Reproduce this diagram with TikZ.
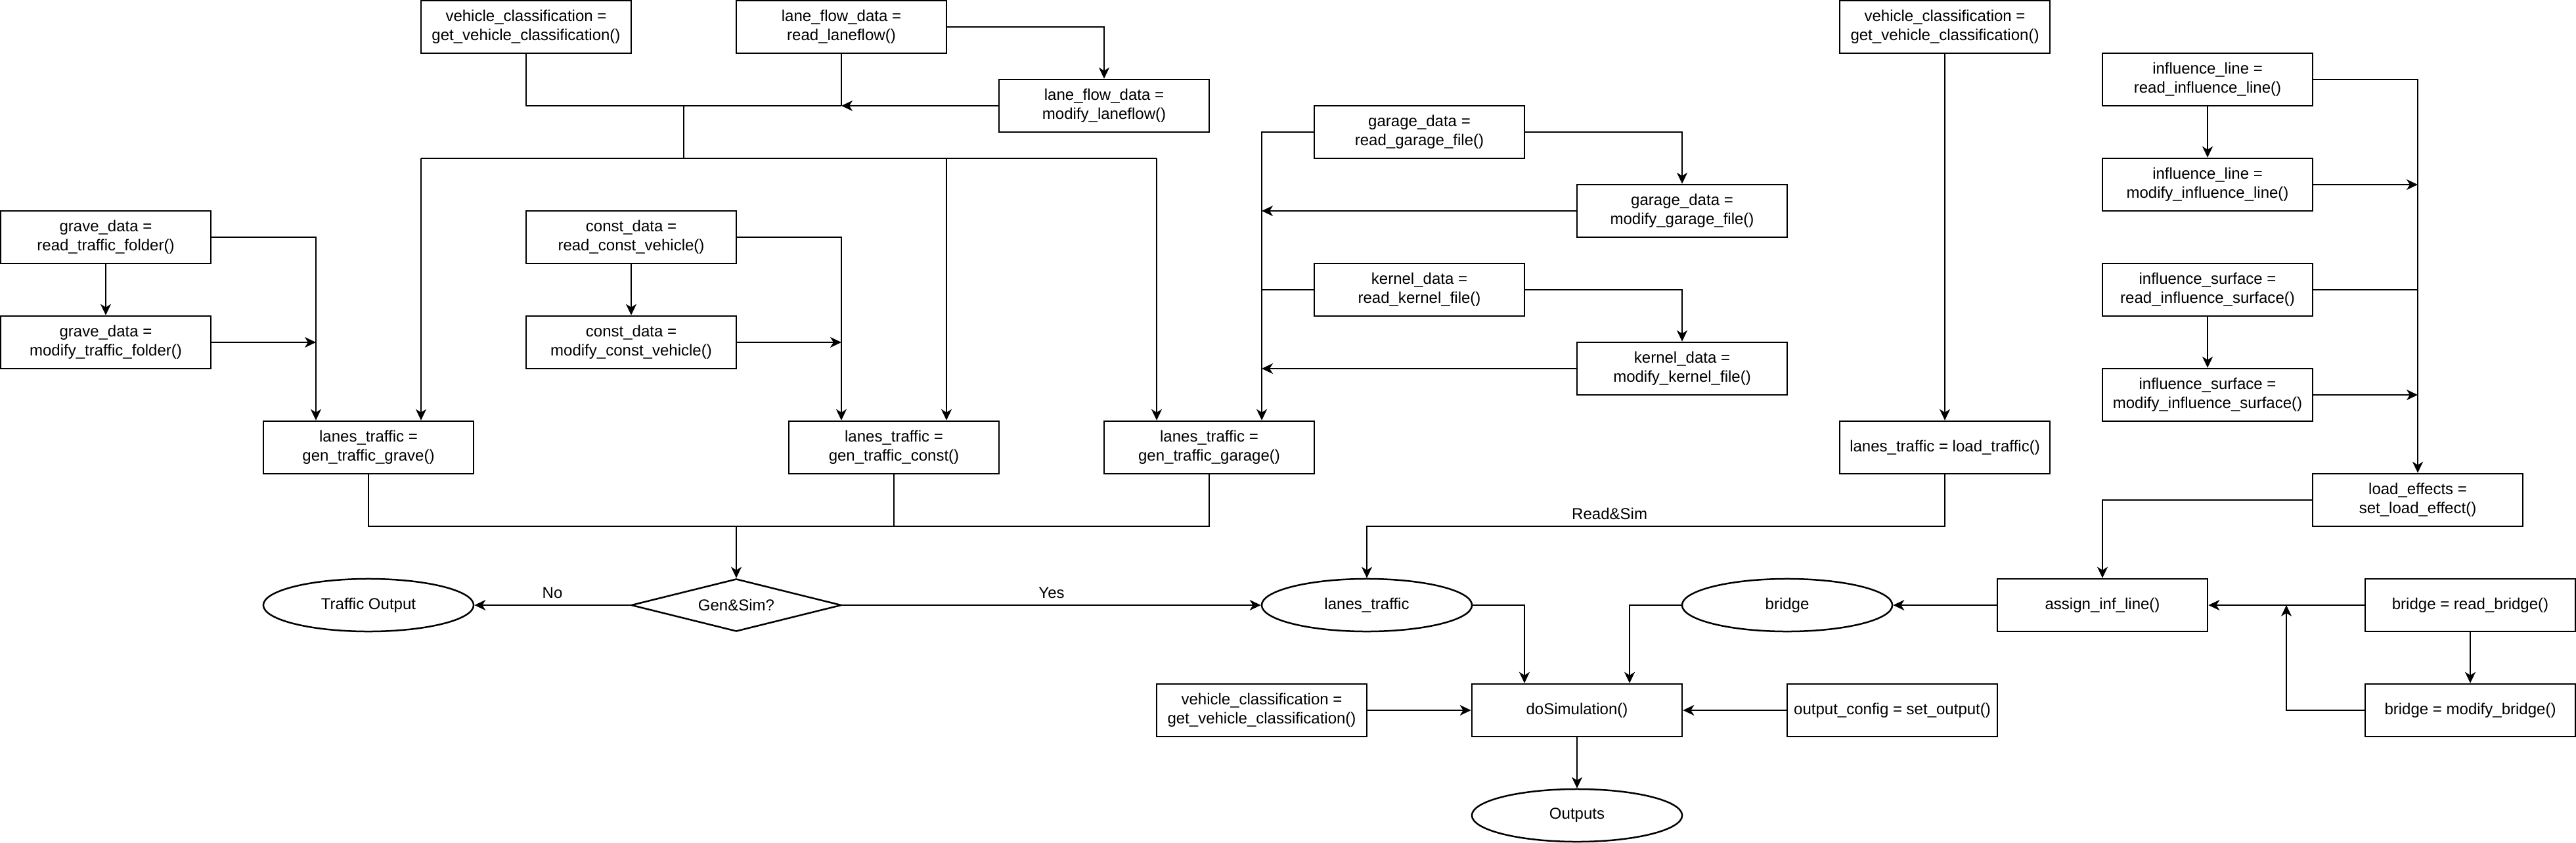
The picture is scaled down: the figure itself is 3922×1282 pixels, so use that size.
\documentclass[tikz,border=0pt]{standalone}
\usepackage{fontspec}
\setmainfont{Liberation Sans}
\usetikzlibrary{shapes.geometric,arrows.meta}
\begin{document}
\begin{tikzpicture}[x=0.01cm,y=-0.01cm,
  txt/.style={font=\fontsize{6.83pt}{8.1pt}\selectfont, align=center},
  box/.style={txt, draw, line width=0.025cm, minimum width=3.2cm, minimum height=0.8cm, inner sep=0pt},
  oval/.style={box, ellipse},
  dia/.style={box, diamond, aspect=4},
  ln/.style={line width=0.02cm},
  arr/.style={ln, -{Stealth[length=0.17cm,width=0.16cm,inset=0.05cm]}},
  lbl/.style={txt, inner sep=0pt}
]
\useasboundingbox (-1,-1) rectangle (3921,1281);
% nodes
\node[box] (vc1) at (800,40) {vehicle\_classification =\\get\_vehicle\_classification()};
\node[box] (lfr) at (1280,40) {lane\_flow\_data =\\read\_laneflow()};
\node[box] (lfm) at (1680,160) {lane\_flow\_data =\\modify\_laneflow()};
\node[box] (gdr) at (160,360) {grave\_data =\\read\_traffic\_folder()};
\node[box] (gdm) at (160,520) {grave\_data =\\modify\_traffic\_folder()};
\node[box] (cdr) at (960,360) {const\_data =\\read\_const\_vehicle()};
\node[box] (cdm) at (960,520) {const\_data =\\modify\_const\_vehicle()};
\node[box] (gar) at (2160,200) {garage\_data =\\read\_garage\_file()};
\node[box] (gam) at (2560,320) {garage\_data =\\modify\_garage\_file()};
\node[box] (ker) at (2160,440) {kernel\_data =\\read\_kernel\_file()};
\node[box] (kem) at (2560,560) {kernel\_data =\\modify\_kernel\_file()};
\node[box] (vc2) at (2960,40) {vehicle\_classification =\\get\_vehicle\_classification()};
\node[box] (ilr) at (3360,120) {influence\_line =\\read\_influence\_line()};
\node[box] (ilm) at (3360,280) {influence\_line =\\modify\_influence\_line()};
\node[box] (isr) at (3360,440) {influence\_surface =\\read\_influence\_surface()};
\node[box] (ism) at (3360,600) {influence\_surface =\\modify\_influence\_surface()};
\node[box] (ltg) at (560,680) {lanes\_traffic =\\gen\_traffic\_grave()};
\node[box] (ltc) at (1360,680) {lanes\_traffic =\\gen\_traffic\_const()};
\node[box] (ltga) at (1840,680) {lanes\_traffic =\\gen\_traffic\_garage()};
\node[box] (ltl) at (2960,680) {lanes\_traffic = load\_traffic()};
\node[box] (lef) at (3680,760) {load\_effects =\\set\_load\_effect()};
\node[box] (asg) at (3200,920) {assign\_inf\_line()};
\node[box] (brr) at (3760,920) {bridge = read\_bridge()};
\node[box] (brm) at (3760,1080) {bridge = modify\_bridge()};
\node[box] (sim) at (2400,1080) {doSimulation()};
\node[box] (vc3) at (1920,1080) {vehicle\_classification =\\get\_vehicle\_classification()};
\node[box] (ocf) at (2880,1080) {output\_config = set\_output()};
\node[oval] (tout) at (560,920) {Traffic Output};
\node[oval] (lte) at (2080,920) {lanes\_traffic};
\node[oval] (bre) at (2720,920) {bridge};
\node[oval] (outs) at (2400,1240) {Outputs};
\node[dia] (gs) at (1120,920) {Gen\&Sim?};
% junction coordinates
\coordinate (j1) at (1280,160);
\coordinate (j2) at (1040,160);
\coordinate (j3) at (1040,240);
\coordinate (b1) at (640,240);
\coordinate (b2) at (1760,240);
\coordinate (b3) at (1440,240);
\coordinate (gA) at (480,520);
\coordinate (cA) at (1280,520);
\coordinate (kA) at (1920,320);
\coordinate (kB) at (1920,440);
\coordinate (kC) at (1920,560);
\coordinate (iA) at (3680,280);
\coordinate (iB) at (3680,440);
\coordinate (iC) at (3680,600);
\coordinate (mL) at (560,800);
\coordinate (mR) at (1840,800);
\coordinate (rA) at (2960,800);
\coordinate (rB) at (2080,800);
\coordinate (bA) at (3480,920);
% lane flow / vehicle classification bus
\draw[ln] (vc1.south) |- (j1);
\draw[ln] (lfr.south) -- (j1);
\draw[arr] (lfm.west) -- (j1);
\draw[arr] (lfr.east) -| (lfm.north);
\draw[ln] (j2) -- (j3);
\draw[ln] (b1) -- (b2);
\draw[arr] (b1) -- (ltg.north -| b1);
\draw[arr] (b3) -- (ltc.north -| b3);
\draw[arr] (b2) -- (ltga.north -| b2);
% grave
\draw[arr] (gdr.south) -- (gdm.north);
\draw[arr] (gdr.east) -| ([xshift=-0.8cm]ltg.north);
\draw[arr] (gdm.east) -- (gA);
% const
\draw[arr] (cdr.south) -- (cdm.north);
\draw[arr] (cdr.east) -| ([xshift=-0.8cm]ltc.north);
\draw[arr] (cdm.east) -- (cA);
% garage / kernel
\draw[arr] (gar.east) -| (gam.north);
\draw[arr] (ker.east) -| (kem.north);
\draw[arr] (gar.west) -| ([xshift=0.8cm]ltga.north);
\draw[arr] (gam.west) -- (kA);
\draw[ln] (ker.west) -- (kB);
\draw[arr] (kem.west) -- (kC);
% load traffic
\draw[arr] (vc2.south) -- (ltl.north);
% influence
\draw[arr] (ilr.south) -- (ilm.north);
\draw[arr] (isr.south) -- (ism.north);
\draw[arr] (ilr.east) -| (lef.north);
\draw[arr] (ilm.east) -- (iA);
\draw[ln] (isr.east) -- (iB);
\draw[arr] (ism.east) -- (iC);
\draw[arr] (lef.west) -| (asg.north);
% merge to decision
\draw[ln] (ltg.south) -- (mL) -- (mR) -- (ltga.south);
\draw[ln] (ltc.south) -- (ltc.south |- mL);
\draw[arr] (gs.north |- mL) -- (gs.north);
\draw[arr] (gs.west) -- node[lbl, above=0.095cm] {No} (tout.east);
\draw[arr] (gs.east) -- node[lbl, above=0.095cm] {Yes} (lte.west);
\draw[arr] (ltl.south) -- (rA) -- node[pos=0.58, lbl, above=0.095cm] {Read\&Sim} (rB) -- (lte.north);
% simulation
\draw[arr] (lte.east) -| ([xshift=-0.8cm]sim.north);
\draw[arr] (bre.west) -| ([xshift=0.8cm]sim.north);
\draw[arr] (asg.west) -- (bre.east);
\draw[arr] (brr.west) -- (asg.east);
\draw[arr] (brr.south) -- (brm.north);
\draw[arr] (brm.west) -| (bA);
\draw[arr] (vc3.east) -- (sim.west);
\draw[arr] (ocf.west) -- (sim.east);
\draw[arr] (sim.south) -- (outs.north);
\end{tikzpicture}
\end{document}
